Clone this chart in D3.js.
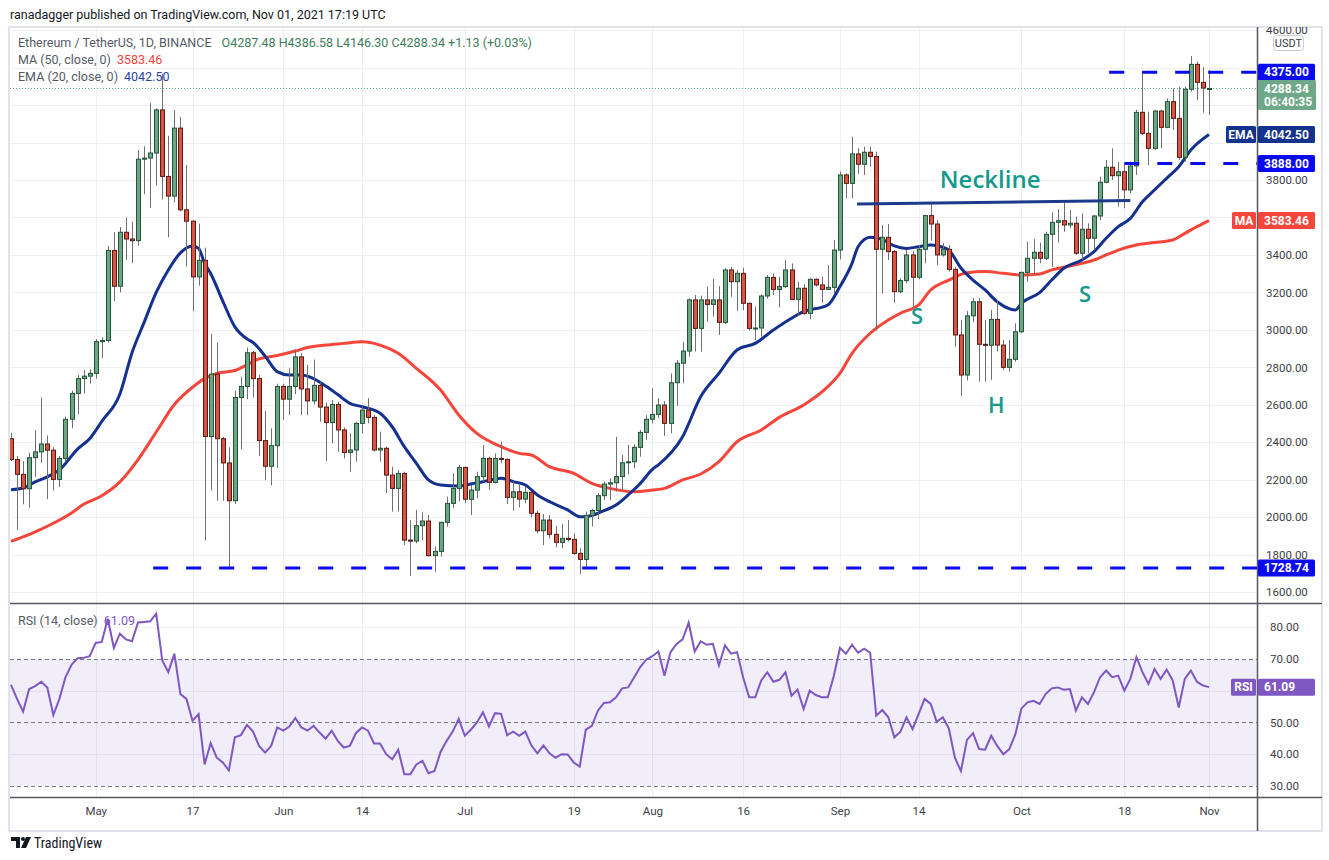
<!DOCTYPE html>
<html>
<head>
<meta charset="utf-8">
<script src="https://cdn.jsdelivr.net/npm/d3@7"></script>
<style>
  body { margin: 0; background: #ffffff; }
  svg { display: block; font-family: Roboto, "Liberation Sans", sans-serif; }
</style>
</head>
<body>
<script>
// ETH/USDT daily candles, first candle on startDay, one per day
var startDay = "2021-04-17";

var opens = [
  2419,2308,2229,2152,2318,2349,2391,2358,2202,2314,
  2523,2661,2740,2753,2768,2937,2943,3424,3233,3521,
  3485,3476,3911,3917,3944,4174,3819,3714,4077,3641,
  3580,3283,3371,2431,2764,2419,2290,2088,2639,2698,
  2878,2740,2409,2272,2382,2698,2630,2698,2856,2685,
  2621,2704,2588,2505,2602,2466,2346,2359,2501,2572,
  2533,2359,2368,2225,2154,2234,1878,1873,1955,1980,
  1795,1818,1973,2074,2154,2266,2096,2145,2217,2314,
  2186,2314,2309,2106,2136,2097,2133,2021,1928,1985,
  1909,1866,1887,1882,1807,1775,2010,2036,2115,2177,
  2184,2217,2291,2296,2373,2453,2523,2549,2599,2501,
  2718,2822,2887,3160,3008,3160,3136,3160,3040,3320,
  3257,3302,3142,3008,3010,3181,3280,3216,3231,3320,
  3163,3222,3088,3270,3240,3216,3227,3426,3827,3782,
  3939,3884,3948,3925,3430,3494,3418,3204,3263,3400,
  3281,3430,3610,3565,3400,3430,3323,2973,2759,3075,
  3150,2923,2918,3056,2919,2800,2843,2990,3307,3382,
  3414,3382,3510,3574,3583,3560,3569,3409,3537,3489,
  3608,3788,3868,3823,3844,3747,3875,4161,4049,3969,
  4168,4081,4218,4129,3921,4284,4417,4321,4287.48
];
var highs = [
  2450,2327,2299,2345,2465,2639,2437,2373,2327,2538,
  2675,2759,2786,2790,2951,2961,3448,3521,3549,3599,
  3577,3959,3980,4211,4183,4367,4036,4174,4137,3880,
  3586,3567,3439,2979,2933,2428,2373,2676,2750,2906,
  2887,2759,2566,2474,2713,2713,2795,2896,2875,2814,
  2842,2722,2612,2626,2617,2480,2448,2510,2590,2635,
  2546,2457,2377,2270,2252,2243,1985,2039,2026,2012,
  1843,1976,2110,2234,2279,2270,2172,2243,2386,2323,
  2341,2403,2314,2190,2172,2163,2137,2035,2017,2012,
  1953,1963,1985,1914,1834,2030,2045,2128,2190,2208,
  2430,2332,2386,2390,2466,2545,2688,2635,2620,2768,
  2840,2937,3168,3186,3183,3231,3272,3234,3329,3335,
  3320,3332,3145,3124,3190,3293,3302,3284,3373,3355,
  3257,3243,3275,3275,3284,3346,3480,3845,3836,4031,
  3969,3978,3978,3951,3560,3565,3426,3275,3426,3421,
  3453,3613,3676,3586,3462,3453,3337,3053,3100,3170,
  3170,3053,3106,3160,2946,2946,3035,3311,3471,3484,
  3466,3524,3627,3645,3693,3640,3604,3622,3569,3613,
  3818,3907,3969,3898,3880,3898,4174,4378,4165,4174,
  4174,4236,4289,4298,4298,4462,4432,4401,4386.58
];
var lows = [
  2300,1932,2069,2051,2216,2290,2097,2143,2161,2300,
  2475,2550,2660,2713,2740,2850,2933,3154,3200,3374,
  3356,3448,3724,3650,3770,3696,3494,3680,3632,3338,
  3099,3236,1876,2143,2088,2088,1728,2070,2363,2630,
  2640,2327,2198,2170,2262,2520,2545,2657,2545,2545,
  2602,2510,2300,2394,2350,2314,2243,2297,2448,2501,
  2350,2297,2128,2030,2030,1852,1686,1861,1878,1790,
  1709,1790,1950,2050,2083,2074,2012,2101,2190,2145,
  2181,2288,2070,2035,2053,2074,1999,1914,1852,1887,
  1839,1834,1870,1799,1697,1736,1950,1990,2092,2092,
  2137,2145,2230,2261,2323,2412,2501,2530,2434,2448,
  2594,2715,2857,2884,2884,3044,3071,2973,3031,3177,
  3102,3106,2996,2946,2964,3168,3186,3120,3222,3159,
  3074,3080,3056,3231,3145,3213,3195,3376,3702,3702,
  3832,3827,3871,2996,3195,3373,3145,3195,3248,3115,
  3270,3355,3476,3346,3391,3311,2910,2647,2730,3040,
  2724,2724,2733,2884,2786,2777,2830,2982,3257,3293,
  3355,3373,3337,3466,3524,3542,3400,3373,3409,3426,
  3586,3782,3800,3658,3649,3729,3827,4040,3880,3960,
  3969,4076,4067,3907,3898,4272,4227,4159,4146.30
];
var closes = [
  2308,2229,2152,2318,2349,2391,2358,2202,2314,2523,
  2661,2740,2753,2768,2937,2943,3424,3233,3521,3485,
  3476,3911,3917,3944,4174,3819,3714,4077,3641,3580,
  3283,3371,2431,2764,2419,2290,2088,2639,2698,2878,
  2740,2409,2272,2382,2698,2630,2698,2856,2685,2621,
  2704,2588,2505,2602,2466,2346,2359,2501,2572,2533,
  2359,2368,2225,2154,2234,1878,1873,1955,1980,1795,
  1818,1973,2074,2154,2266,2096,2145,2217,2314,2186,
  2314,2309,2106,2136,2097,2133,2021,1928,1985,1909,
  1866,1887,1882,1807,1775,2010,2036,2115,2177,2184,
  2217,2291,2296,2373,2453,2523,2549,2599,2501,2718,
  2822,2887,3160,3008,3160,3136,3160,3040,3320,3257,
  3302,3142,3008,3010,3181,3280,3216,3231,3320,3163,
  3222,3088,3270,3240,3216,3227,3426,3827,3782,3939,
  3884,3948,3925,3430,3494,3418,3204,3263,3400,3281,
  3430,3610,3565,3400,3430,3323,2973,2759,3075,3150,
  2923,2918,3056,2919,2800,2843,2990,3307,3382,3414,
  3382,3510,3574,3583,3560,3569,3409,3537,3489,3608,
  3788,3868,3823,3844,3747,3875,4161,4049,3969,4168,
  4081,4218,4129,3921,4284,4417,4321,4291,4288.34
];

// RSI (14, close), one value per candle
var rsiValues = [
  61.8,57.4,53.4,60.5,61.4,62.8,61.0,52.3,57.4,64.2,
  68.1,70.2,70.3,70.8,75.0,75.3,82.6,73.4,77.9,76.1,
  75.5,81.4,81.6,81.8,84.2,69.5,65.8,71.6,58.9,57.4,
  50.5,52.6,36.8,43.5,38.9,37.4,34.9,45.3,46.0,49.2,
  47.1,42.6,40.5,42.6,48.4,47.4,48.7,51.4,48.4,47.4,
  48.9,46.8,44.9,47.4,44.2,42.1,42.6,46.6,48.4,47.4,
  43.4,43.4,40.0,38.4,41.4,33.7,33.7,36.8,37.9,34.0,
  34.7,40.7,44.2,47.1,51.1,45.8,47.7,50.0,53.2,48.7,
  52.9,52.7,46.0,47.1,45.8,47.1,42.8,40.3,42.8,40.3,
  38.9,40.0,39.9,37.4,36.1,47.7,48.9,53.7,56.1,56.3,
  57.9,60.7,61.0,64.2,67.4,69.8,70.8,72.3,64.7,72.1,
  74.7,76.1,81.4,72.3,75.5,74.4,74.7,67.9,74.2,71.6,
  72.1,64.2,57.9,57.9,63.2,65.8,62.8,63.4,65.8,58.4,
  60.3,54.2,60.0,58.6,57.9,57.9,64.7,73.4,71.6,74.4,
  71.9,73.2,71.9,52.1,53.9,51.6,45.3,47.1,51.6,47.9,
  52.6,57.4,55.8,50.2,51.6,48.1,38.9,34.7,44.5,46.6,
  41.6,41.4,45.8,42.6,40.0,41.6,46.3,54.4,56.3,56.8,
  55.8,58.9,60.7,61.0,60.3,60.5,53.7,57.9,55.8,59.5,
  64.2,66.3,64.2,64.7,60.0,63.7,70.5,65.8,62.1,66.8,
  63.7,66.6,63.2,54.7,63.7,66.3,62.8,61.6,61.09
];

// EMA (20, close)
var emaDates = [
  "2021-04-17","2021-04-19","2021-04-21","2021-04-23","2021-04-25","2021-04-28","2021-04-30","2021-05-02",
  "2021-05-05","2021-05-07","2021-05-09","2021-05-11","2021-05-13","2021-05-15","2021-05-17","2021-05-18",
  "2021-05-19","2021-05-20","2021-05-22","2021-05-24","2021-05-26","2021-05-27","2021-05-29","2021-05-31",
  "2021-06-02","2021-06-04","2021-06-06","2021-06-08","2021-06-10","2021-06-12","2021-06-14","2021-06-17",
  "2021-06-19","2021-06-21","2021-06-23","2021-06-25","2021-06-27","2021-06-30","2021-07-02","2021-07-04",
  "2021-07-07","2021-07-09","2021-07-11","2021-07-13","2021-07-15","2021-07-18","2021-07-20","2021-07-21",
  "2021-07-24","2021-07-26","2021-07-28","2021-07-30","2021-08-01","2021-08-02","2021-08-06","2021-08-09",
  "2021-08-12","2021-08-15","2021-08-18","2021-08-21","2021-08-24","2021-08-26","2021-08-30","2021-09-01",
  "2021-09-03","2021-09-04","2021-09-06","2021-09-08","2021-09-10","2021-09-12","2021-09-14","2021-09-16",
  "2021-09-18","2021-09-19","2021-09-21","2021-09-23","2021-09-25","2021-09-27","2021-09-30","2021-10-01",
  "2021-10-04","2021-10-06","2021-10-08","2021-10-11","2021-10-13","2021-10-15","2021-10-17","2021-10-19",
  "2021-10-21","2021-10-23","2021-10-25","2021-10-27","2021-10-29","2021-11-01"
];
var emaValues = [
  2147,2156,2189,2216,2253,2364,2419,2511,
  2658,2878,3040,3200,3320,3411,3448,3435,
  3356,3301,3154,3016,2952,2933,2860,2777,
  2759,2759,2740,2700,2655,2608,2590,2555,
  2483,2377,2288,2199,2172,2167,2177,2190,
  2208,2190,2172,2119,2083,2039,2003,2003,
  2035,2065,2119,2180,2256,2280,2430,2644,
  2768,2893,2928,2999,3062,3097,3133,3231,
  3355,3444,3494,3483,3448,3435,3444,3453,
  3441,3426,3330,3266,3213,3150,3106,3142,
  3199,3266,3329,3373,3418,3489,3551,3595,
  3684,3747,3809,3871,3960,4042.5
];

// MA (50, close)
var maDates = [
  "2021-04-17","2021-04-21","2021-04-24","2021-04-27","2021-04-29","2021-05-02","2021-05-05","2021-05-08",
  "2021-05-11","2021-05-14","2021-05-17","2021-05-19","2021-05-21","2021-05-24","2021-05-26","2021-05-28",
  "2021-05-31","2021-06-03","2021-06-05","2021-06-08","2021-06-11","2021-06-14","2021-06-17","2021-06-20",
  "2021-06-23","2021-06-27","2021-06-30","2021-07-03","2021-07-07","2021-07-10","2021-07-12","2021-07-15",
  "2021-07-19","2021-07-22","2021-07-25","2021-07-29","2021-08-01","2021-08-03","2021-08-06","2021-08-09",
  "2021-08-12","2021-08-15","2021-08-19","2021-08-22","2021-08-26","2021-08-30","2021-09-01","2021-09-03",
  "2021-09-06","2021-09-09","2021-09-11","2021-09-14","2021-09-16","2021-09-19","2021-09-22","2021-09-25",
  "2021-09-28","2021-10-01","2021-10-04","2021-10-06","2021-10-09","2021-10-11","2021-10-13","2021-10-15",
  "2021-10-17","2021-10-20","2021-10-23","2021-10-26","2021-10-28","2021-10-30","2021-11-01"
];
var maValues = [
  1871,1922,1968,2023,2069,2115,2189,2308,
  2455,2602,2694,2740,2768,2783,2814,2845,
  2863,2887,2906,2919,2928,2937,2919,2875,
  2795,2679,2546,2448,2377,2341,2332,2270,
  2234,2181,2154,2136,2145,2154,2199,2231,
  2297,2403,2466,2533,2599,2697,2768,2875,
  2982,3053,3089,3133,3213,3266,3305,3311,
  3302,3293,3298,3320,3341,3355,3373,3400,
  3426,3453,3466,3480,3515,3551,3583.46
];

// Horizontal levels drawn on the chart: price, first day
var levelPrices = [4375, 3888, 1728.74];
var levelStarts = ["2021-10-15T12:00", "2021-10-18T00:00", "2021-05-10T12:00"];

// Neckline end points
var necklineDates = ["2021-09-03T20:00", "2021-10-19T00:00"];
var necklinePrices = [3672, 3690];

// Pattern annotations
var noteTexts = ["Neckline", "S", "H", "S"];
var noteDates = ["2021-09-25T20:00", "2021-09-13T18:00", "2021-09-26T20:00", "2021-10-11T12:00"];
var notePrices = [3757, 3031, 2556, 3149];
var noteSizes = [24, 22, 22, 22];

// Time axis
var tickDates = ["2021-05-01","2021-05-17","2021-06-01","2021-06-14","2021-07-01","2021-07-19",
                 "2021-08-01","2021-08-16","2021-09-01","2021-09-14","2021-10-01","2021-10-18","2021-11-01"];
var tickLabels = ["May","17","Jun","14","Jul","19","Aug","16","Sep","14","Oct","18","Nov"];

var priceTicks = d3.range(1600, 4601, 200);
var rsiTicks = [30, 40, 50, 60, 70, 80];

// Legend values
var lastO = 4287.48, lastH = 4386.58, lastL = 4146.30, lastC = 4288.34;
var maLast = 3583.46, emaLast = 4042.50, rsiLast = 61.09;

function drawChart() {
    var width = 1329, height = 860;
    var left = 10, right = 1257, top = 27, sep = 603, bottom = 797, frameBottom = 831;

    var parseDay = d3.utcParse("%Y-%m-%d");
    var parseTime = d3.utcParse("%Y-%m-%dT%H:%M");
    var day0 = parseDay(startDay);

    var candles = closes.map(function(c, i) {
        return { date: d3.utcDay.offset(day0, i), o: opens[i], h: highs[i], l: lows[i], c: c, rsi: rsiValues[i] };
    });

    // Scales: one candle every ~6 px, price axis linear
    var x = d3.scaleUtc().domain([parseDay("2021-04-17"), parseDay("2021-11-01")]).range([11, 1209]);
    var y = d3.scaleLinear().domain([1600, 4600]).range([592.2, 30.1]);
    var yr = d3.scaleLinear().domain([30, 80]).range([786, 627]);

    // y centres of the coloured tags, the axis labels under them are hidden
    var tagYs = levelPrices.map(y).concat([y(emaLast), y(maLast), 95]);
    var rsiTagYs = [yr(rsiLast)];
    function freeOf(list) {
        return function(v) { return list.every(function(t) { return Math.abs(t - v) > 11; }); };
    }

    var svg = d3.select("body").append("svg")
        .attr("width", width)
        .attr("height", height);

    svg.append("rect").attr("width", width).attr("height", height).attr("fill", "#ffffff");

    var defs = svg.append("defs");
    defs.append("clipPath").attr("id", "clipPrice")
      .append("rect").attr("x", left).attr("y", top).attr("width", right - left).attr("height", sep - top);
    defs.append("clipPath").attr("id", "clipRsi")
      .append("rect").attr("x", left).attr("y", sep).attr("width", right - left).attr("height", bottom - sep);
    defs.append("clipPath").attr("id", "clipAxis")
      .append("rect").attr("x", right).attr("y", top).attr("width", width - right).attr("height", bottom - top);

    // Publisher line
    svg.append("text")
        .attr("x", 10).attr("y", 19)
        .attr("font-size", 12.5).attr("fill", "#131722")
        .text("ranadagger published on TradingView.com, Nov 01, 2021 17:19 UTC");

    // Grid
    var grid = svg.append("g").attr("stroke", "#eef0f4").attr("stroke-width", 1);
    grid.selectAll(".vgrid")
        .data(tickDates)
      .enter().append("line")
        .attr("x1", function(d) { return Math.round(x(parseDay(d))) + 0.5; })
        .attr("x2", function(d) { return Math.round(x(parseDay(d))) + 0.5; })
        .attr("y1", top).attr("y2", bottom);
    grid.selectAll(".hgrid")
        .data(priceTicks)
      .enter().append("line")
        .attr("x1", left).attr("x2", right)
        .attr("y1", function(d) { return Math.round(y(d)) + 0.5; })
        .attr("y2", function(d) { return Math.round(y(d)) + 0.5; });
    grid.selectAll(".rgrid")
        .data([40, 60, 80])
      .enter().append("line")
        .attr("x1", left).attr("x2", right)
        .attr("y1", function(d) { return Math.round(yr(d)) + 0.5; })
        .attr("y2", function(d) { return Math.round(yr(d)) + 0.5; });

    // RSI band and its dashed levels
    svg.append("rect")
        .attr("x", left).attr("width", right - left)
        .attr("y", yr(70)).attr("height", yr(30) - yr(70))
        .attr("fill", "#7e57c2").attr("fill-opacity", 0.1);
    svg.selectAll(".rlevel")
        .data([70, 50, 30])
      .enter().append("line")
        .attr("x1", left).attr("x2", right)
        .attr("y1", function(d) { return Math.round(yr(d)) + 0.5; })
        .attr("y2", function(d) { return Math.round(yr(d)) + 0.5; })
        .attr("stroke", "#787b86").attr("stroke-dasharray", "4,3");

    var pricePane = svg.append("g").attr("clip-path", "url(#clipPrice)");

    // Last price dotted line
    pricePane.append("line")
        .attr("x1", left).attr("x2", right)
        .attr("y1", y(lastC)).attr("y2", y(lastC))
        .attr("stroke", "#5e9e7a").attr("stroke-dasharray", "1,2");

    // Moving averages
    var avgLine = d3.line()
        .x(function(d) { return x(d.date); })
        .y(function(d) { return y(d.v); })
        .curve(d3.curveMonotoneX);

    var maData = maDates.map(function(d, i) { return { date: parseDay(d), v: maValues[i] }; });
    var emaData = emaDates.map(function(d, i) { return { date: parseDay(d), v: emaValues[i] }; });

    pricePane.append("path").datum(maData)
        .attr("d", avgLine).attr("fill", "none")
        .attr("stroke", "#f4463a").attr("stroke-width", 3);
    pricePane.append("path").datum(emaData)
        .attr("d", avgLine).attr("fill", "none")
        .attr("stroke", "#15318f").attr("stroke-width", 3);

    // Candles
    var candle = pricePane.selectAll(".candle")
        .data(candles)
      .enter().append("g")
        .attr("class", "candle");

    candle.append("line")
        .attr("x1", function(d) { return Math.round(x(d.date)) + 0.5; })
        .attr("x2", function(d) { return Math.round(x(d.date)) + 0.5; })
        .attr("y1", function(d) { return y(d.h); })
        .attr("y2", function(d) { return y(d.l); })
        .attr("stroke", "#707070").attr("stroke-width", 1);

    candle.append("rect")
        .attr("x", function(d) { return Math.round(x(d.date)) - 1.5; })
        .attr("width", 4)
        .attr("y", function(d) { return y(Math.max(d.o, d.c)); })
        .attr("height", function(d) { return Math.max(1, Math.abs(y(d.o) - y(d.c))); })
        .attr("fill", function(d) { return d.c >= d.o ? "#6ba583" : "#d75442"; })
        .attr("stroke", function(d) { return d.c >= d.o ? "#225437" : "#5b1a13"; })
        .attr("stroke-width", 1);

    // Support / resistance dashed levels
    pricePane.selectAll(".level")
        .data(levelPrices)
      .enter().append("line")
        .attr("x1", function(d, i) { return x(parseTime(levelStarts[i])); })
        .attr("x2", right)
        .attr("y1", function(d) { return y(d); })
        .attr("y2", function(d) { return y(d); })
        .attr("stroke", "#0a0af0").attr("stroke-width", 3)
        .attr("stroke-dasharray", "15,18");

    // Neckline
    pricePane.append("line")
        .attr("x1", x(parseTime(necklineDates[0]))).attr("y1", y(necklinePrices[0]))
        .attr("x2", x(parseTime(necklineDates[1]))).attr("y2", y(necklinePrices[1]))
        .attr("stroke", "#1d3b8c").attr("stroke-width", 3);

    pricePane.selectAll(".note")
        .data(noteTexts)
      .enter().append("text")
        .attr("x", function(d, i) { return x(parseTime(noteDates[i])); })
        .attr("y", function(d, i) { return y(notePrices[i]); })
        .attr("text-anchor", "middle")
        .attr("font-family", "'Open Sans', 'Noto Sans', sans-serif")
        .attr("font-weight", 600)
        .attr("font-size", function(d, i) { return noteSizes[i]; })
        .attr("fill", "#139a8b")
        .text(function(d) { return d; });

    // RSI line
    var rsiPane = svg.append("g").attr("clip-path", "url(#clipRsi)");
    rsiPane.append("path").datum(candles)
        .attr("d", d3.line()
            .x(function(d) { return x(d.date); })
            .y(function(d) { return yr(d.rsi); }))
        .attr("fill", "none")
        .attr("stroke", "#7e57c2").attr("stroke-width", 2);

    // Legends
    var legend = svg.append("g").attr("font-size", 12.5);
    var l1 = legend.append("text").attr("x", 18).attr("y", 47).attr("fill", "#555a66");
    l1.append("tspan").text("Ethereum / TetherUS, 1D, BINANCE");
    l1.append("tspan").attr("dx", 10).attr("fill", "#3e7d5c")
        .text("O" + lastO.toFixed(2) + " H" + lastH.toFixed(2) + " L" + lastL.toFixed(2) +
              " C" + lastC.toFixed(2) + " +1.13 (+0.03%)");
    var l2 = legend.append("text").attr("x", 18).attr("y", 64).attr("fill", "#555a66");
    l2.append("tspan").text("MA (50, close, 0)");
    l2.append("tspan").attr("dx", 6).attr("fill", "#f4463a").text(maLast.toFixed(2));
    var l3 = legend.append("text").attr("x", 18).attr("y", 81).attr("fill", "#555a66");
    l3.append("tspan").text("EMA (20, close, 0)");
    l3.append("tspan").attr("dx", 6).attr("fill", "#2a44a8").text(emaLast.toFixed(2));
    var l4 = legend.append("text").attr("x", 18).attr("y", 625).attr("fill", "#555a66");
    l4.append("tspan").text("RSI (14, close)");
    l4.append("tspan").attr("dx", 6).attr("fill", "#7e57c2").text(rsiLast.toFixed(2));

    // Frame and pane separators
    svg.append("rect")
        .attr("x", 9).attr("y", top).attr("width", 1313).attr("height", frameBottom - top)
        .attr("fill", "none").attr("stroke", "#e0e3eb").attr("stroke-width", 2);
    svg.append("line").attr("x1", left).attr("x2", 1322).attr("y1", sep + 0.5).attr("y2", sep + 0.5)
        .attr("stroke", "#555861").attr("stroke-width", 1.5);
    svg.append("line").attr("x1", left).attr("x2", 1322).attr("y1", bottom + 0.5).attr("y2", bottom + 0.5)
        .attr("stroke", "#555861").attr("stroke-width", 1.5);
    svg.append("line").attr("x1", right + 0.5).attr("x2", right + 0.5).attr("y1", top).attr("y2", frameBottom)
        .attr("stroke", "#555861").attr("stroke-width", 1.5);

    // Time axis
    var xAxis = d3.axisBottom(x)
        .tickValues(tickDates.map(parseDay))
        .tickFormat(function(d, i) { return tickLabels[i]; })
        .tickSize(0).tickPadding(10);
    var gx = svg.append("g")
        .attr("transform", "translate(0," + bottom + ")")
        .call(xAxis);
    gx.select(".domain").remove();
    gx.selectAll("text").attr("font-size", 11.5).attr("fill", "#3b3e47").attr("font-family", "Roboto, sans-serif");

    // Price axis, skipping the labels that sit under a coloured tag
    var axisPane = svg.append("g").attr("clip-path", "url(#clipAxis)");
    var yAxis = d3.axisRight(y)
        .tickValues(priceTicks.filter(function(p) { return freeOf(tagYs)(y(p)); }))
        .tickFormat(d3.format(".2f")).tickSize(0).tickPadding(9);
    var gy = axisPane.append("g").attr("transform", "translate(" + right + ",0)").call(yAxis);
    gy.select(".domain").remove();
    gy.selectAll("text").attr("font-size", 11.5).attr("fill", "#3b3e47").attr("font-family", "Roboto, sans-serif");

    var rAxis = d3.axisRight(yr)
        .tickValues(rsiTicks.filter(function(r) { return freeOf(rsiTagYs)(yr(r)); }))
        .tickFormat(d3.format(".2f")).tickSize(0).tickPadding(13);
    var gr = svg.append("g").attr("transform", "translate(" + right + ",0)").call(rAxis);
    gr.select(".domain").remove();
    gr.selectAll("text").attr("font-size", 11.5).attr("fill", "#3b3e47").attr("font-family", "Roboto, sans-serif");

    // USDT unit badge
    svg.append("rect").attr("x", 1273.5).attr("y", 35.5).attr("width", 30).attr("height", 15).attr("rx", 3)
        .attr("fill", "#ffffff").attr("stroke", "#c9ccd4");
    svg.append("text").attr("x", 1288.5).attr("y", 47).attr("text-anchor", "middle")
        .attr("font-size", 11).attr("fill", "#3b3e47").text("USDT");

    // Coloured price tags on the axis
    function tag(yc, text, fill, name, nameLeft) {
        var g = svg.append("g");
        g.append("rect").attr("x", right + 1).attr("y", yc - 8.5).attr("width", 57).attr("height", 17)
            .attr("rx", 1.5).attr("fill", fill);
        g.append("text").attr("x", right + 7).attr("y", yc + 4.2)
            .attr("font-size", 12).attr("font-weight", 700).attr("fill", "#ffffff").text(text);
        if (name) {
            g.append("rect").attr("x", nameLeft).attr("y", yc - 8.5).attr("width", right - 1 - nameLeft).attr("height", 17)
                .attr("rx", 1.5).attr("fill", fill);
            g.append("text").attr("x", (nameLeft + right - 1) / 2).attr("y", yc + 4.2).attr("text-anchor", "middle")
                .attr("font-size", 12).attr("font-weight", 700).attr("fill", "#ffffff").text(name);
        }
    }
    levelPrices.forEach(function(p) { tag(y(p), p.toFixed(2), "#0a0af0"); });
    tag(y(emaLast), emaLast.toFixed(2), "#14338d", "EMA", 1226);
    tag(y(maLast), maLast.toFixed(2), "#f4463a", "MA", 1232);
    tag(yr(rsiLast), rsiLast.toFixed(2), "#7e57c2", "RSI", 1231);

    // Last price with countdown
    var lp = svg.append("g");
    lp.append("rect").attr("x", right + 1).attr("y", 80).attr("width", 58).attr("height", 30)
        .attr("rx", 1.5).attr("fill", "#6fa888");
    lp.append("text").attr("x", right + 7).attr("y", 93).attr("font-size", 12).attr("font-weight", 700)
        .attr("fill", "#ffffff").text(lastC.toFixed(2));
    lp.append("text").attr("x", right + 7).attr("y", 106).attr("font-size", 12).attr("font-weight", 700)
        .attr("fill", "#ffffff").text("06:40:35");

    // TradingView mark
    var logo = svg.append("g").attr("fill", "#131722");
    logo.append("path").attr("d", "M11 837h9v11h-4v-7h-5z");
    logo.append("circle").attr("cx", 23).attr("cy", 839).attr("r", 2);
    logo.append("path").attr("d", "M26 837h5l-5 11h-5z");
    svg.append("text").attr("x", 34).attr("y", 848).attr("font-size", 14).attr("fill", "#131722")
        .attr("font-family", "'Roboto Condensed', Roboto, sans-serif").text("TradingView");
}

drawChart();
</script>
</body>
</html>
